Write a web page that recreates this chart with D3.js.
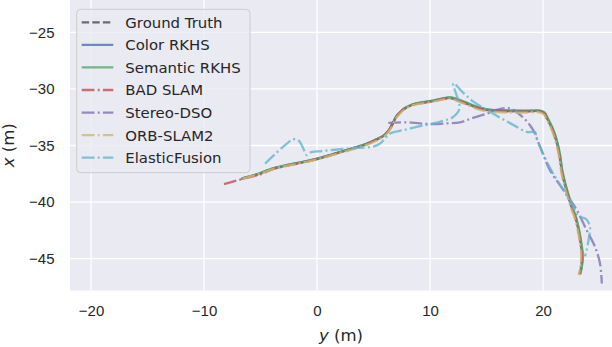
<!DOCTYPE html>
<html lang="en">
<head>
    <meta charset="utf-8">
    <title>Trajectories</title>
    <style>
        body { margin: 0; background: #fff; }
        svg { display: block; font-family: "DejaVu Sans", sans-serif; }
        .tick text { fill: #262626; font-size: 15px; }
    </style>
</head>
<body>
<script src="https://cdn.jsdelivr.net/npm/d3@7/dist/d3.min.js"></script>
<script>
    // trajectory points as [y, x] in metres (y horizontal, x vertical)
    const groundTruth = [[-6.7,-37.95],[-5.5,-37.62],[-3.9,-37.05],[-2.5,-36.72],[-1.0,-36.42],[0.5,-36.05],[1.9,-35.62],[3.2,-35.25],[4.3,-34.9],[5.2,-34.5],[6.0,-34.05],[6.5,-33.4],[6.9,-32.6],[7.3,-32.1],[7.7,-31.75],[8.4,-31.4],[9.1,-31.25],[10.0,-31.12],[11.0,-30.9],[11.8,-30.8],[12.6,-31.05],[13.5,-31.4],[14.3,-31.7],[15.0,-31.85],[16.0,-31.93],[17.1,-31.96],[18.5,-31.97],[19.7,-31.96],[20.1,-32.15],[20.35,-32.6],[20.8,-33.5],[21.15,-34.5],[21.45,-35.8],[21.65,-37.2],[21.95,-38.5],[22.25,-39.55],[22.55,-40.5],[22.85,-41.3],[23.1,-42.3],[23.3,-43.4],[23.45,-44.5],[23.45,-45.2],[23.35,-45.9],[23.25,-46.35]];
    const colorRkhs = [[-6.6,-37.9],[-5.4,-37.58],[-3.8,-37.02],[-2.4,-36.7],[-0.9,-36.38],[0.6,-36.0],[2.0,-35.58],[3.3,-35.2],[4.4,-34.85],[5.3,-34.45],[6.05,-34.0],[6.55,-33.35],[6.95,-32.55],[7.35,-32.05],[7.8,-31.7],[8.5,-31.38],[9.2,-31.22],[10.1,-31.08],[11.0,-30.88],[11.8,-30.78],[12.6,-31.02],[13.5,-31.36],[14.3,-31.66],[15.0,-31.82],[16.0,-31.9],[17.1,-31.93],[18.5,-31.95],[19.7,-31.94],[20.12,-32.12],[20.38,-32.58],[20.82,-33.5],[21.18,-34.5],[21.47,-35.8],[21.68,-37.2],[21.98,-38.5],[22.28,-39.55],[22.58,-40.5],[22.88,-41.3],[23.12,-42.3],[23.32,-43.4],[23.47,-44.5],[23.47,-45.2],[23.38,-45.9],[23.28,-46.3]];
    const semanticRkhs = [[-6.65,-37.9],[-5.45,-37.6],[-3.85,-37.0],[-2.45,-36.68],[-0.95,-36.38],[0.55,-36.02],[1.95,-35.6],[3.25,-35.22],[4.35,-34.86],[5.25,-34.46],[6.05,-34.02],[6.55,-33.38],[6.95,-32.58],[7.35,-32.06],[7.75,-31.72],[8.45,-31.36],[9.15,-31.2],[10.05,-31.06],[11.05,-30.85],[11.85,-30.74],[12.65,-30.98],[13.55,-31.34],[14.35,-31.64],[15.05,-31.8],[16.05,-31.88],[17.15,-31.92],[18.55,-31.93],[19.75,-31.92],[20.15,-32.1],[20.4,-32.56],[20.85,-33.48],[21.2,-34.48],[21.5,-35.78],[21.7,-37.18],[22.0,-38.48],[22.3,-39.52],[22.6,-40.48],[22.9,-41.28],[23.15,-42.28],[23.35,-43.38],[23.5,-44.48],[23.5,-45.18],[23.4,-45.88],[23.28,-46.4]];
    const badSlam = [[-8.23,-38.42],[-7.3,-38.15],[-6.2,-37.85],[-5.0,-37.55],[-3.9,-37.1],[-2.5,-36.75],[-1.0,-36.45],[0.5,-36.08],[1.9,-35.65],[3.2,-35.28],[4.3,-34.92],[5.2,-34.52],[6.0,-34.08],[6.5,-33.42],[6.9,-32.62],[7.3,-32.12],[7.7,-31.78],[8.4,-31.42],[9.1,-31.27],[10.0,-31.14],[11.0,-30.92],[11.8,-30.82],[12.6,-31.08],[13.5,-31.42],[14.3,-31.72],[15.0,-31.88],[16.0,-31.96],[17.1,-31.99],[18.5,-32.0],[19.7,-31.99],[20.1,-32.18],[20.33,-32.62],[20.78,-33.52],[21.13,-34.52],[21.43,-35.82],[21.63,-37.22],[21.93,-38.52],[22.23,-39.57],[22.53,-40.52],[22.83,-41.32],[23.08,-42.32],[23.28,-43.42],[23.42,-44.52],[23.42,-45.22],[23.32,-45.92],[23.2,-46.4]];
    const stereoDso = [[6.3,-33.0],[7.9,-32.95],[9.1,-33.05],[10.3,-33.12],[11.5,-33.05],[12.65,-32.95],[13.7,-32.6],[15.0,-32.2],[15.9,-31.85],[16.6,-31.7],[17.2,-31.76],[17.8,-32.15],[18.5,-32.8],[19.1,-33.6],[19.73,-35.1],[20.62,-37.2],[21.8,-38.95],[22.98,-40.7],[23.86,-42.5],[24.6,-43.97],[25.04,-45.44],[25.2,-47.2]];
    const orbSlam2 = [[-6.6,-37.92],[-5.4,-37.62],[-3.8,-37.06],[-2.4,-36.74],[-0.9,-36.44],[0.6,-36.08],[2.0,-35.66],[3.3,-35.3],[4.4,-34.95],[5.3,-34.56],[6.05,-34.1],[6.55,-33.45],[6.95,-32.66],[7.35,-32.16],[7.75,-31.8],[8.45,-31.45],[9.15,-31.3],[10.05,-31.17],[11.0,-30.96],[11.8,-30.87],[12.6,-31.14],[13.5,-31.5],[14.3,-31.82],[15.0,-31.98],[16.0,-32.06],[17.1,-32.09],[18.5,-32.1],[19.7,-32.08],[20.08,-32.26],[20.32,-32.7],[20.76,-33.6],[21.1,-34.6],[21.4,-35.9],[21.6,-37.3],[21.9,-38.6],[22.2,-39.65],[22.5,-40.6],[22.8,-41.4],[23.05,-42.4],[23.25,-43.5],[23.38,-44.6],[23.36,-45.3],[23.26,-46.0],[23.16,-46.45]];
    const elasticFusion = [[-4.6,-36.6],[-3.7,-35.75],[-2.8,-34.95],[-2.1,-34.45],[-1.6,-34.6],[-1.2,-35.3],[-0.9,-35.86],[-0.6,-35.62],[0.4,-35.5],[1.9,-35.35],[3.6,-35.2],[4.85,-35.12],[5.55,-34.85],[6.0,-34.4],[6.45,-33.95],[7.6,-33.65],[9.1,-33.3],[10.3,-33.05],[11.2,-32.8],[11.95,-32.55],[12.6,-31.75],[12.06,-29.5],[12.9,-30.3],[13.8,-31.1],[15.0,-31.85],[16.2,-32.55],[17.4,-33.2],[18.56,-33.8],[19.3,-33.82],[19.4,-34.25],[19.73,-35.1],[20.62,-37.0],[21.5,-38.45],[22.39,-39.8],[23.15,-41.25],[23.8,-41.5],[24.15,-42.2],[24.05,-43.2],[23.85,-44.3],[23.7,-44.8]];

    const seriesNames = ["Ground Truth", "Color RKHS", "Semantic RKHS", "BAD SLAM", "Stereo-DSO", "ORB-SLAM2", "ElasticFusion"];
    const seriesData = [groundTruth, colorRkhs, semanticRkhs, badSlam, stereoDso, orbSlam2, elasticFusion];
    const seriesColors = ["#000000", "#4C72B0", "#55A868", "#C44E52", "#8172B2", "#CCB974", "#64B5CD"];
    const seriesOpacity = [0.55, 0.8, 0.8, 0.8, 0.8, 0.8, 0.8];
    const seriesDash = ["7.4,3.2", null, null, "12.8,3.2,2,3.2", "12.8,3.2,2,3.2", "12.8,3.2,2,3.2", "12.8,3.2,2,3.2"];

    const xTicks = [-20, -10, 0, 10, 20];
    const yTicks = [-45, -40, -35, -30, -25];

    const width = 612, height = 347;
    const plot = {left: 70, right: 612, top: 0, bottom: 290.5};

    const x = d3.scaleLinear().domain([-21.86, 26.1]).range([plot.left, plot.right]);
    const y = d3.scaleLinear().domain([-47.82, -22.14]).range([plot.bottom, plot.top]);

    const svg = d3.select("body").append("svg")
        .attr("width", width)
        .attr("height", height);

    svg.append("defs").append("clipPath").attr("id", "clip")
        .append("rect")
        .attr("x", plot.left).attr("y", plot.top)
        .attr("width", plot.right - plot.left).attr("height", plot.bottom - plot.top);

    svg.append("rect")
        .attr("x", plot.left).attr("y", plot.top)
        .attr("width", plot.right - plot.left).attr("height", plot.bottom - plot.top)
        .attr("fill", "#EAEAF2");

    // grid
    const grid = svg.append("g").attr("stroke", "#fff").attr("stroke-width", 1.3);
    grid.selectAll(".gx").data(xTicks).join("line")
        .attr("x1", d => x(d)).attr("x2", d => x(d))
        .attr("y1", plot.top).attr("y2", plot.bottom);
    grid.selectAll(".gy").data(yTicks).join("line")
        .attr("y1", d => y(d)).attr("y2", d => y(d))
        .attr("x1", plot.left).attr("x2", plot.right);

    // axes (labels only, no tick marks)
    svg.append("g")
        .attr("transform", `translate(0,${plot.bottom})`)
        .call(d3.axisBottom(x).tickValues(xTicks).tickSize(0).tickPadding(14.5))
        .call(g => g.select(".domain").remove());

    svg.append("g")
        .attr("transform", `translate(${plot.left},0)`)
        .call(d3.axisLeft(y).tickValues(yTicks).tickSize(0).tickPadding(15.5))
        .call(g => g.select(".domain").remove());

    // trajectories
    const line = d3.line()
        .x(d => x(d[0]))
        .y(d => y(d[1]))
        .curve(d3.curveCatmullRom.alpha(0.5));

    const gLines = svg.append("g").attr("clip-path", "url(#clip)").attr("fill", "none");
    seriesData.forEach((data, i) => {
        gLines.append("path")
            .attr("d", line(data))
            .attr("stroke", seriesColors[i])
            .attr("stroke-opacity", seriesOpacity[i])
            .attr("stroke-width", 2.3)
            .attr("stroke-dasharray", seriesDash[i]);
    });

    // legend
    const legend = svg.append("g");
    legend.append("rect")
        .attr("x", 76.7).attr("y", 9.3)
        .attr("width", 173.3).attr("height", 163.4)
        .attr("rx", 4)
        .attr("fill", "#EAEAF2").attr("fill-opacity", 0.8)
        .attr("stroke", "#cccccc").attr("stroke-width", 1);

    seriesNames.forEach((name, i) => {
        const cy = 22.3 + i * 22.57;
        legend.append("line")
            .attr("x1", 81.7).attr("x2", 113.3)
            .attr("y1", cy).attr("y2", cy)
            .attr("stroke", seriesColors[i])
            .attr("stroke-opacity", seriesOpacity[i])
            .attr("stroke-width", 2.3)
            .attr("stroke-dasharray", seriesDash[i]);
        legend.append("text")
            .attr("x", 125.3).attr("y", cy)
            .attr("dy", "0.36em")
            .attr("fill", "#262626")
            .style("font-size", "14.9px")
            .text(name);
    });

    // axis titles
    const xl = svg.append("text")
        .attr("x", (plot.left + plot.right) / 2).attr("y", 341)
        .attr("text-anchor", "middle")
        .attr("fill", "#262626")
        .style("font-size", "16.5px");
    xl.append("tspan").attr("font-style", "italic").text("y");
    xl.append("tspan").text(" (m)");

    const yl = svg.append("text")
        .attr("transform", `translate(14,${(plot.top + plot.bottom) / 2}) rotate(-90)`)
        .attr("text-anchor", "middle")
        .attr("fill", "#262626")
        .style("font-size", "16.5px");
    yl.append("tspan").attr("font-style", "italic").text("x");
    yl.append("tspan").text(" (m)");
</script>
</body>
</html>
